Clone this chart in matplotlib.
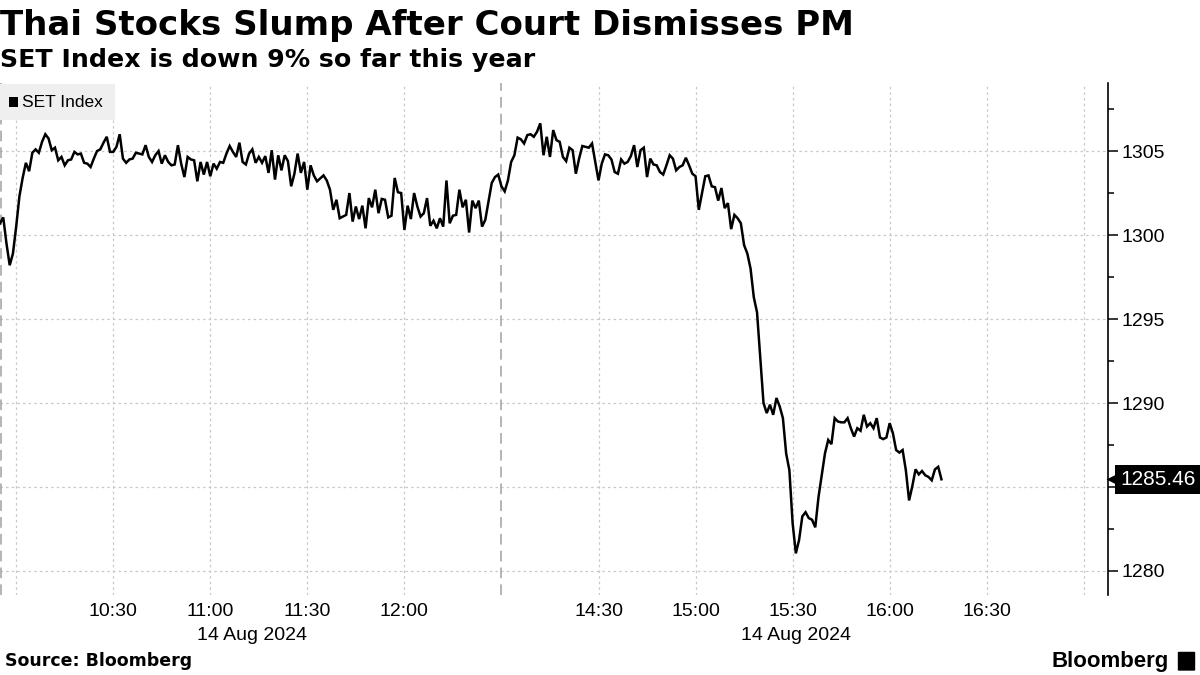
import matplotlib.pyplot as plt
import matplotlib.transforms as mtransforms
from matplotlib.patches import Rectangle, FancyBboxPatch

plt.rcParams['font.family'] = ['Liberation Sans', 'DejaVu Sans']

# SET Index, 14 Aug 2024 -- morning session
am_times = ["09:55", "09:56", "09:57", "09:58", "09:59", "10:00", "10:01", "10:02", "10:03", "10:04",
            "10:05", "10:06", "10:07", "10:08", "10:09", "10:10", "10:11", "10:12", "10:13", "10:14",
            "10:15", "10:16", "10:17", "10:18", "10:19", "10:20", "10:21", "10:22", "10:23", "10:24",
            "10:25", "10:26", "10:27", "10:28", "10:29", "10:30", "10:31", "10:32", "10:33", "10:34",
            "10:35", "10:36", "10:37", "10:39", "10:40", "10:41", "10:42", "10:43", "10:44", "10:45",
            "10:46", "10:47", "10:48", "10:49", "10:50", "10:51", "10:52", "10:53", "10:54", "10:55",
            "10:56", "10:57", "10:58", "10:59", "11:00", "11:01", "11:02", "11:03", "11:04", "11:05",
            "11:06", "11:07", "11:08", "11:09", "11:10", "11:11", "11:12", "11:13", "11:14", "11:15",
            "11:16", "11:17", "11:18", "11:19", "11:20", "11:21", "11:22", "11:23", "11:24", "11:25",
            "11:26", "11:27", "11:28", "11:29", "11:30", "11:31", "11:32", "11:33", "11:35", "11:36",
            "11:37", "11:38", "11:39", "11:40", "11:42", "11:43", "11:44", "11:45", "11:46", "11:47",
            "11:48", "11:49", "11:50", "11:51", "11:52", "11:53", "11:54", "11:55", "11:56", "11:57",
            "11:58", "11:59", "12:00", "12:01", "12:02", "12:03", "12:04", "12:05", "12:06", "12:07",
            "12:08", "12:09", "12:10", "12:11", "12:12", "12:13", "12:14", "12:15", "12:16", "12:17",
            "12:18", "12:19", "12:20", "12:21", "12:22", "12:23", "12:24", "12:25", "12:27", "12:28",
            "12:29", "12:30"]
am_vals = [1300.7, 1301.05, 1299.5, 1298.2, 1298.9, 1300.5, 1302.3, 1303.4, 1304.3, 1303.8,
           1304.9, 1305.1, 1304.9, 1305.55, 1306.0, 1305.75, 1305.05, 1305.2, 1304.45, 1304.65,
           1304.15, 1304.45, 1304.5, 1304.95, 1304.8, 1304.85, 1304.3, 1304.25, 1304.05, 1304.55,
           1305.0, 1305.1, 1305.5, 1305.85, 1304.95, 1304.95, 1305.25, 1306.0, 1304.55, 1304.3,
           1304.5, 1304.55, 1304.9, 1304.8, 1305.35, 1304.65, 1304.35, 1304.75, 1305.0, 1304.25,
           1304.75, 1304.35, 1304.15, 1304.2, 1305.35, 1304.25, 1303.45, 1304.65, 1304.5, 1304.45,
           1303.2, 1304.35, 1303.6, 1304.35, 1303.5, 1304.25, 1303.95, 1304.35, 1304.3, 1304.85,
           1305.3, 1304.95, 1304.65, 1305.5, 1304.35, 1304.2, 1304.85, 1305.1, 1304.3, 1304.65,
           1304.3, 1304.7, 1303.7, 1305.05, 1303.3, 1304.75, 1303.85, 1304.75, 1304.4, 1302.9,
           1303.65, 1304.85, 1303.7, 1304.35, 1302.7, 1304.15, 1303.55, 1303.2, 1303.55, 1303.25,
           1302.7, 1301.5, 1302.1, 1301.0, 1301.2, 1302.5, 1300.8, 1301.7, 1300.95, 1301.75,
           1300.4, 1302.2, 1301.65, 1302.7, 1301.3, 1302.15, 1302.1, 1301.05, 1301.15, 1303.4,
           1302.55, 1302.5, 1300.3, 1301.75, 1300.95, 1302.5, 1301.7, 1301.1, 1301.3, 1302.2,
           1300.55, 1300.85, 1300.4, 1301.0, 1300.5, 1303.25, 1300.7, 1301.15, 1301.2, 1302.7,
           1301.65, 1302.1, 1300.15, 1302.05, 1301.6, 1302.05, 1300.5, 1300.9, 1303.1, 1303.45,
           1303.6, 1302.9]

# afternoon session
pm_times = ["14:01", "14:02", "14:03", "14:04", "14:05", "14:06", "14:07", "14:08", "14:09", "14:10",
            "14:11", "14:12", "14:13", "14:14", "14:15", "14:16", "14:17", "14:18", "14:19", "14:20",
            "14:21", "14:22", "14:23", "14:24", "14:25", "14:26", "14:27", "14:28", "14:29", "14:30",
            "14:31", "14:32", "14:33", "14:34", "14:35", "14:36", "14:37", "14:38", "14:39", "14:40",
            "14:41", "14:42", "14:43", "14:44", "14:45", "14:46", "14:47", "14:48", "14:49", "14:50",
            "14:51", "14:52", "14:53", "14:54", "14:55", "14:56", "14:57", "14:58", "14:59", "15:00",
            "15:01", "15:02", "15:03", "15:04", "15:05", "15:06", "15:07", "15:08", "15:09", "15:10",
            "15:11", "15:12", "15:13", "15:14", "15:15", "15:16", "15:17", "15:18", "15:19", "15:21",
            "15:22", "15:23", "15:24", "15:25", "15:26", "15:27", "15:28", "15:29", "15:30", "15:31",
            "15:32", "15:33", "15:34", "15:35", "15:36", "15:37", "15:38", "15:40", "15:41", "15:42",
            "15:43", "15:44", "15:45", "15:46", "15:47", "15:48", "15:49", "15:50", "15:51", "15:52",
            "15:53", "15:54", "15:55", "15:56", "15:57", "15:58", "15:59", "16:00", "16:01", "16:02",
            "16:03", "16:04", "16:05", "16:06", "16:07", "16:08", "16:09", "16:10", "16:11", "16:12",
            "16:13", "16:14", "16:15", "16:16"]
pm_vals = [1302.6, 1303.25, 1304.35, 1304.75, 1305.8, 1305.7, 1305.45, 1305.95, 1306.0, 1305.85,
           1306.15, 1306.65, 1304.75, 1305.85, 1304.65, 1306.25, 1305.65, 1305.55, 1304.65, 1304.4,
           1305.2, 1305.05, 1303.65, 1304.55, 1305.3, 1305.25, 1305.2, 1305.45, 1304.35, 1303.25,
           1304.25, 1304.8, 1304.75, 1304.5, 1303.75, 1303.65, 1304.5, 1304.25, 1304.35, 1304.7,
           1305.35, 1304.05, 1305.05, 1305.2, 1303.45, 1304.55, 1304.2, 1304.15, 1303.75, 1303.6,
           1304.15, 1304.75, 1304.55, 1303.85, 1304.05, 1304.15, 1304.6, 1304.15, 1303.65, 1303.5,
           1301.5, 1302.5, 1303.5, 1303.55, 1302.9, 1302.85, 1302.05, 1302.8, 1301.6, 1301.9,
           1300.35, 1301.2, 1301.0, 1300.7, 1299.4, 1298.9, 1298.0, 1296.3, 1295.4, 1290.0,
           1289.4, 1289.9, 1289.3, 1290.3, 1289.8, 1289.1, 1287.0, 1286.0, 1282.85, 1281.05,
           1281.85, 1283.25, 1283.5, 1283.15, 1283.05, 1282.6, 1284.4, 1287.0, 1287.8, 1287.55,
           1289.1, 1288.9, 1288.85, 1288.85, 1289.1, 1288.5, 1288.0, 1288.5, 1288.35, 1289.3,
           1288.6, 1288.8, 1288.5, 1289.1, 1287.95, 1287.85, 1287.95, 1288.8, 1288.2, 1287.2,
           1287.05, 1287.2, 1286.0, 1284.2, 1285.05, 1286.05, 1285.75, 1285.95, 1285.7, 1285.6,
           1285.4, 1286.05, 1286.2, 1285.46]

tick_labels = ["10:30", "11:00", "11:30", "12:00", "14:30", "15:00", "15:30", "16:00", "16:30"]
grid_times = ["10:00"] + tick_labels + ["17:00"]
last_value = 1285.46


def minutes(t):
    h, m = t.split(":")
    return int(h) * 60 + int(m)


# the lunch break is cut out of the axis: 09:55-12:30 then 14:00-17:10
AM_START = minutes("09:55")
PM_START = minutes("14:00")
AM_LEN = minutes("12:30") - AM_START


def pos(t):
    m = minutes(t)
    if m < PM_START:
        return m - AM_START
    return AM_LEN + m - PM_START


x = [pos(t) for t in am_times] + [pos(t) for t in pm_times]
y = am_vals + pm_vals

fig = plt.figure(figsize=(12, 6.75), dpi=100)
ax = fig.add_axes([0.0, 0.1185, 0.9231, 0.759])

ax.plot(x, y, color="black", lw=1.8, solid_joinstyle="miter", zorder=3)

ax.set_xlim(0, 342.4)
ax.set_ylim(1278.57, 1309.07)

# grid
for t in grid_times:
    ax.axvline(pos(t), color="#c8c8c8", lw=0.9, ls=(0, (2, 2.5)), zorder=1)
for v in range(1280, 1310, 5):
    ax.axhline(v, color="#c8c8c8", lw=0.9, ls=(0, (2, 2.5)), zorder=1)
for xb in (0.4, AM_LEN):
    ax.axvline(xb, color="#a0a0a0", lw=1.1, ls=(0, (7, 4)), zorder=2)

for s in ("top", "left", "bottom"):
    ax.spines[s].set_visible(False)
ax.spines["right"].set_linewidth(1.2)

ax.yaxis.tick_right()
ax.set_yticks(range(1280, 1310, 5))
ax.set_yticks([1282.5 + 5 * i for i in range(6)], minor=True)
ax.tick_params(axis="y", which="major", length=7, width=1.1, pad=3, labelsize=14)
ax.tick_params(axis="y", which="minor", length=4, width=1.1)

ax.set_xticks([pos(t) for t in tick_labels])
ax.set_xticklabels(tick_labels)
ax.tick_params(axis="x", length=0, pad=6, labelsize=14)

# date labels under each session
date_tr = mtransforms.blended_transform_factory(ax.transData, fig.transFigure)
ax.text(78, 1 - 635 / 675, "14 Aug 2024", transform=date_tr, ha="center", va="center", fontsize=14)
ax.text(246, 1 - 635 / 675, "14 Aug 2024", transform=date_tr, ha="center", va="center", fontsize=14)

# last value tag: black box with a small pointer at the axis
tag_tr = mtransforms.blended_transform_factory(ax.transAxes, ax.transData)
ax.plot([1.0065], [last_value], marker="<", ms=13, color="black", mec="none",
        transform=tag_tr, clip_on=False, zorder=6)
ax.text(1.0115, last_value, f"{last_value:.2f}", transform=tag_tr, ha="left", va="center",
        color="white", fontsize=15, zorder=7,
        bbox=dict(boxstyle="square,pad=0.25", fc="black", ec="none"))

# legend
ax.add_patch(Rectangle((0, 0.928), 0.104, 0.07, transform=ax.transAxes, fc="#efefef",
                       ec="none", zorder=2, clip_on=False))
ax.add_patch(Rectangle((0.0085, 0.952), 0.0075, 0.021, transform=ax.transAxes, fc="black",
                       ec="none", zorder=3, clip_on=False))
ax.text(0.02, 0.962, "SET Index", transform=ax.transAxes, ha="left", va="center",
        fontsize=12.5, zorder=3)

# titles and footer
fig.text(0.0, 1 - 25 / 675, "Thai Stocks Slump After Court Dismisses PM", fontsize=24.5,
         fontweight="bold", family="DejaVu Sans", ha="left", va="center")
fig.text(0.0, 1 - 60 / 675, "SET Index is down 9% so far this year", fontsize=18.2,
         fontweight="bold", family="DejaVu Sans", ha="left", va="center")
fig.text(0.004, 1 - 661 / 675, "Source: Bloomberg", fontsize=12.5, fontweight="bold",
         family="DejaVu Sans", ha="left", va="center")
fig.text(0.974, 1 - 661 / 675, "Bloomberg", fontsize=16, fontweight="bold",
         ha="right", va="center")
fig.patches.append(FancyBboxPatch((0.9825, 1 - 670 / 675), 0.0125, 0.026, boxstyle="round,pad=0.001",
                                  transform=fig.transFigure, fc="black", ec="none"))

fig.savefig("out.png", dpi=100, facecolor="white")
